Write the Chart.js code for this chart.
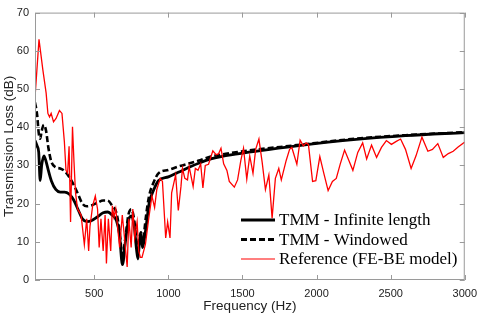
<!DOCTYPE html>
<html>
<head>
<meta charset="utf-8">
<script src="https://cdn.jsdelivr.net/npm/chart.js@4"></script>
<style>
html,body{margin:0;padding:0;background:#fff;}
#wrap{width:484px;height:317px;}
</style>
</head>
<body>
<div id="wrap"><canvas id="c" width="484" height="317"></canvas></div>
<script>
// ---- data ----
const xTicks = [500, 1000, 1500, 2000, 2500, 3000];
const yTicks = [0, 10, 20, 30, 40, 50, 60, 70];

const tmmFreq = [100,115,125,135,145,160,175,190,210,240,270,300,330,360,390,420,450,480,520,560,590,620,650,670,690,710,730,750,770,785,795,805,815,825,835,850,870,900,933,1000,1067,1200,1287,1467,1867,2267,2600,3000];
const tmmInf  = [36.5,35,33.5,26,30,32.5,31,28.7,26,23.7,23,23,22.5,21,18.5,16,15.3,15.5,16.5,17.6,17.8,17,15.5,12,4,10,15.5,16.8,14,8,5.5,10,12,8.5,10,14,20,23.5,26,27,28.2,30.5,31.7,33,35.1,36.8,37.8,38.6];
const tmmWin  = [46.5,43,38.5,37,39,40.6,39,34.7,31,29.5,29.2,28.5,27,25,22.5,20,19.3,19.5,20.2,20.8,20.8,19.5,17.5,13,6.5,11,17,18.5,15.5,10,7.6,11,12.5,10,12,17,22,25.5,27.9,28.8,29.7,31.2,32.3,33.5,35.3,37,37.9,38.7];

const refFreq = [100,127,153,175,187,198,209,225,242,265,282,298,309,320,330,340,353,363,373,387,411,433,449,462,471,489,507,522,533,545,560,573,582,595,611,622,633,645,655,671,689,700,722,733,749,760,773,789,800,811,822,845,867,889,907,922,945,960,982,995,1011,1022,1049,1067,1085,1095,1111,1129,1140,1167,1182,1200,1218,1233,1249,1271,1300,1322,1338,1355,1373,1395,1411,1445,1467,1489,1507,1529,1549,1571,1589,1611,1633,1655,1678,1700,1722,1745,1762,1795,1818,1833,1867,1889,1911,1929,1945,1973,1995,2022,2049,2078,2107,2133,2160,2189,2218,2245,2278,2311,2338,2371,2405,2438,2471,2505,2538,2567,2600,2638,2671,2711,2751,2782,2818,2855,2889,2922,2955,3000];
const refTL   = [47.8,63,55,49,43.6,42.7,43.6,41.4,42.3,44.4,43.6,36.3,28.7,28,35,15.2,40.1,31,23,18.6,17,9.3,16,7.6,14,19.4,22,18.6,8.5,16,7.6,17,4.3,16,7.6,19.4,16.5,18.6,14.8,8.5,17,12.7,3.4,16,8.5,18.6,11,15.2,7.6,5.9,5.9,9.3,16,22,19,23.7,26.6,25.8,11,15.2,11,22.8,27.5,18.2,24.5,29.2,26.6,26.2,29.7,24.5,29.2,28.7,30.4,24.1,30,30.3,33.8,32.8,33,34.5,30.4,28.7,25.8,24.3,26.2,31.3,34.5,26.4,32.5,27.9,34.2,36.9,30.8,23.7,27.5,16.2,26.6,29.2,26.2,31.3,34.2,34.7,30.3,36.6,35.1,35.9,35.5,25.8,26,32.3,27.9,23.4,25.8,26.6,30.4,34,31.3,28.7,33.4,35.9,31.7,35.3,32.1,34.7,36.5,35.5,36.3,36.9,34.2,29.2,32.5,37.4,33.7,34.2,35.7,32.1,33.1,33.7,34.8,36.1];

const legendLabels = ['TMM - Infinite length', 'TMM - Windowed', 'Reference (FE-BE model)'];

const pts = (xs, ys) => xs.map((x, i) => ({x: x, y: ys[i]}));

const boxPlugin = {
  id: 'box',
  afterDraw(chart) {
    const ctx = chart.ctx;
    const {left, right, top, bottom} = chart.chartArea;
    const xs = chart.scales.x, ys = chart.scales.y;
    ctx.save();
    ctx.strokeStyle = '#9a9a9a';
    ctx.lineWidth = 1;
    ctx.strokeRect(left + 0.5, top + 0.5, right - left - 1, bottom - top - 1);
    ctx.beginPath();
    xTicks.forEach(v => {
      const p = Math.round(xs.getPixelForValue(v)) + 0.5;
      ctx.moveTo(p, bottom); ctx.lineTo(p, bottom - 5);
      ctx.moveTo(p, top); ctx.lineTo(p, top + 5);
    });
    yTicks.forEach(v => {
      const p = Math.round(ys.getPixelForValue(v)) + 0.5;
      ctx.moveTo(left, p); ctx.lineTo(left + 5, p);
      ctx.moveTo(right, p); ctx.lineTo(right - 5, p);
    });
    ctx.stroke();

    // legend
    const styles = [
      {color: '#000', width: 3, dash: []},
      {color: '#000', width: 3, dash: [6, 3]},
      {color: '#ff0000', width: 1.2, dash: []}
    ];
    const rowY = [220, 239.5, 259];
    ctx.font = '17px "Liberation Serif", serif';
    ctx.textBaseline = 'middle';
    ctx.fillStyle = '#000';
    legendLabels.forEach((t, i) => {
      const s = styles[i];
      ctx.beginPath();
      ctx.setLineDash(s.dash);
      ctx.strokeStyle = s.color;
      ctx.lineWidth = s.width;
      ctx.moveTo(241, rowY[i]); ctx.lineTo(275, rowY[i]);
      ctx.stroke();
      ctx.setLineDash([]);
      ctx.fillText(t, 279, rowY[i] + 1);
    });
    ctx.restore();
  }
};

new Chart(document.getElementById('c'), {
  type: 'line',
  data: {
    datasets: [
      {label: legendLabels[2], data: pts(refFreq, refTL), borderColor: '#ff0000', borderWidth: 1.3, pointRadius: 0, tension: 0, order: 0},
      {label: legendLabels[1], data: pts(tmmFreq, tmmWin), borderColor: '#000', borderWidth: 2.6, borderDash: [6, 3], pointRadius: 0, cubicInterpolationMode: 'monotone', order: 1},
      {label: legendLabels[0], data: pts(tmmFreq, tmmInf), borderColor: '#000', borderWidth: 2.8, pointRadius: 0, cubicInterpolationMode: 'monotone', order: 2}
    ]
  },
  options: {
    responsive: false,
    animation: false,
    devicePixelRatio: 1,
    layout: {padding: {top: 4, right: 12, left: 0, bottom: 0}},
    plugins: {legend: {display: false}, tooltip: {enabled: false}},
    scales: {
      x: {
        type: 'linear', min: 100, max: 3000,
        afterBuildTicks: s => { s.ticks = xTicks.map(v => ({value: v})); },
        afterFit: s => { s.height = 37; },
        grid: {display: false, drawTicks: false},
        border: {display: false},
        ticks: {font: {family: '"Liberation Sans", Arial, sans-serif', size: 11}, color: '#222', padding: 7, maxRotation: 0, autoSkip: false, callback: v => String(v)},
        title: {display: true, text: 'Frequency (Hz)', font: {family: '"Liberation Sans", Arial, sans-serif', size: 13.5}, color: '#222', padding: {top: 0, bottom: 3}}
      },
      y: {
        type: 'linear', min: 0, max: 70,
        afterBuildTicks: s => { s.ticks = yTicks.map(v => ({value: v})); },
        afterFit: s => { s.width = 35; },
        grid: {display: false, drawTicks: false},
        border: {display: false},
        ticks: {font: {family: '"Liberation Sans", Arial, sans-serif', size: 11}, color: '#222', padding: 6, callback: v => String(v)},
        title: {display: true, text: 'Transmission Loss (dB)', font: {family: '"Liberation Sans", Arial, sans-serif', size: 13.5}, color: '#222', padding: {top: 1, bottom: 0}}
      }
    }
  },
  plugins: [boxPlugin]
});
</script>
</body>
</html>
